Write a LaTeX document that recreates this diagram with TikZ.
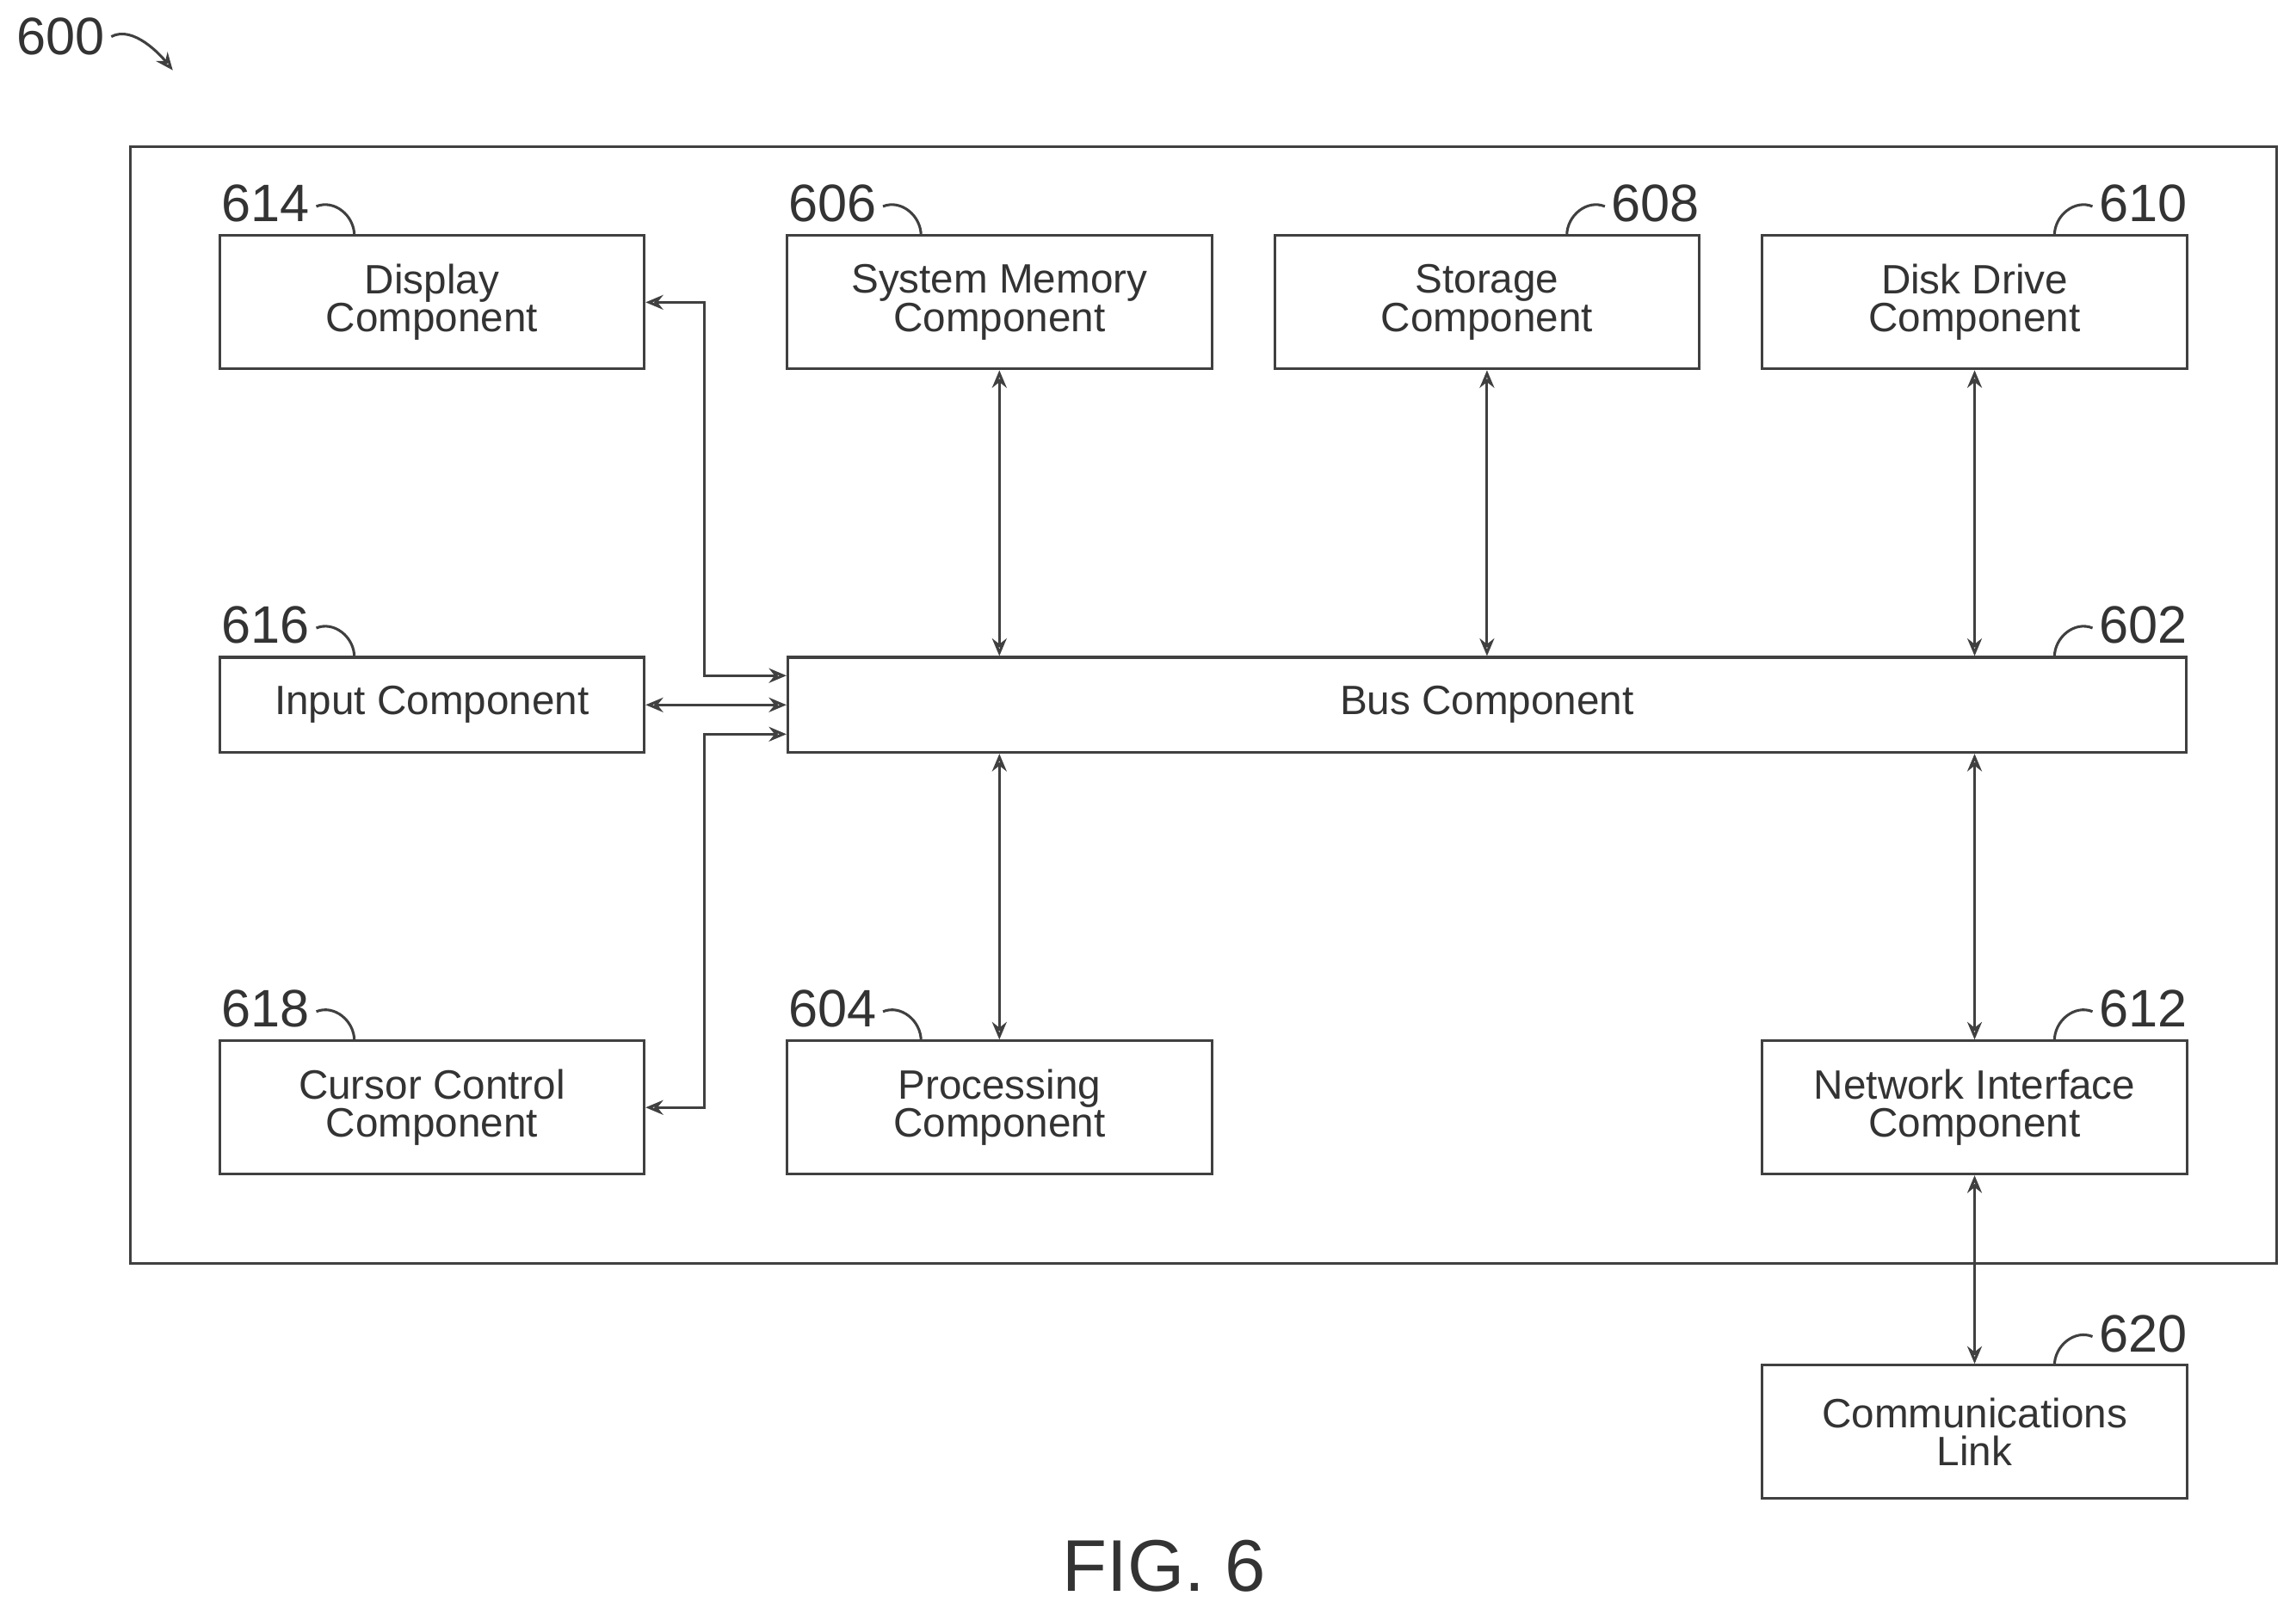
\documentclass[tikz,border=0pt]{standalone}
\usepackage{fontspec}
\setmainfont{Liberation Sans}
\usetikzlibrary{arrows.meta}
\begin{document}
\begin{tikzpicture}[x=0.5pt,y=-0.5pt,
  box/.style={draw=black!75,line width=0.9pt,minimum width=145pt,minimum height=45.5pt,align=center,font=\fontsize{14}{13}\selectfont,inner sep=0pt,text=black!80},
  num/.style={font=\fontsize{18}{18}\selectfont,text=black!80,inner sep=0pt},
  arr/.style={draw=black!75,line width=0.9pt,{Stealth[length=6pt,width=5pt,open]}-{Stealth[length=6pt,width=5pt,open]}},
  hook/.style={draw=black!75,line width=0.9pt}]
\useasboundingbox (0,0) rectangle (1568,1098);
\draw[black!75,line width=0.9pt] (89,100) rectangle (1555,863);
\node[box] (disp) at (295,206.5) {Display\\Component};
\node[box] (mem) at (682.5,206.5) {System Memory\\Component};
\node[box] (stor) at (1015.5,206.5) {Storage\\Component};
\node[box] (disk) at (1348.5,206.5) {Disk Drive\\Component};
\node[box,minimum height=32.5pt] (inp) at (295,481.5) {Input Component};
\node[box,minimum height=32.5pt,minimum width=477.5pt] (bus) at (1015.5,481.5) {Bus Component};
\node[box] (cur) at (295,756.5) {Cursor Control\\Component};
\node[box] (proc) at (682.5,756.5) {Processing\\Component};
\node[box] (net) at (1348.5,756.5) {Network Interface\\Component};
\node[box] (comm) at (1348.5,978) {Communications\\Link};
\node[font=\fontsize{25}{25}\selectfont,text=black!80] (fig) at (795,1070) {FIG. 6};
% labels
\node[num,anchor=east] (l614) at (212,139) {614};
\node[num,anchor=east] (l606) at (599,139) {606};
\node[num,anchor=west] (l608) at (1100,139) {608};
\node[num,anchor=west] (l610) at (1433,139) {610};
\node[num,anchor=east] (l616) at (212,427) {616};
\node[num,anchor=west] (l602) at (1433,427) {602};
\node[num,anchor=east] (l618) at (212,689) {618};
\node[num,anchor=east] (l604) at (599,689) {604};
\node[num,anchor=west] (l612) at (1433,689) {612};
\node[num,anchor=west] (l620) at (1433,911) {620};
\node[num,anchor=east] (l600) at (72,25) {600};
\foreach \n/\x/\y in {l614/242/161,l606/629/161,l616/242/449,l618/242/711,l604/629/711}
  \draw[hook] ([xshift=2pt,yshift=-1pt]\n.east) .. controls +(12,-5) and +(0,-14) .. (\x,\y);
\foreach \n/\x/\y in {l608/1070/161,l610/1403/161,l602/1403/449,l612/1403/711,l620/1403/933}
  \draw[hook] ([xshift=-2pt,yshift=-1pt]\n.west) .. controls +(-12,-5) and +(0,-14) .. (\x,\y);
\draw[hook,-{Stealth[length=6pt,width=5pt,open]}] ([xshift=2pt]l600.east) .. controls +(15,-8) and +(-8,-10) .. (118,48);
% connectors
\draw[arr] (disp.east) -- ++(20pt,0) |- ([yshift=10pt]bus.west);
\draw[arr] (inp.east) -- (bus.west);
\draw[arr] (cur.east) -- ++(20pt,0) |- ([yshift=-10pt]bus.west);
\draw[arr] (mem.south) -- (mem.south |- bus.north);
\draw[arr] (stor.south) -- (stor.south |- bus.north);
\draw[arr] (disk.south) -- (disk.south |- bus.north);
\draw[arr] (proc.north) -- (proc.north |- bus.south);
\draw[arr] (net.north) -- (net.north |- bus.south);
\draw[arr] (net.south) -- (comm.north);
\end{tikzpicture}
\end{document}
